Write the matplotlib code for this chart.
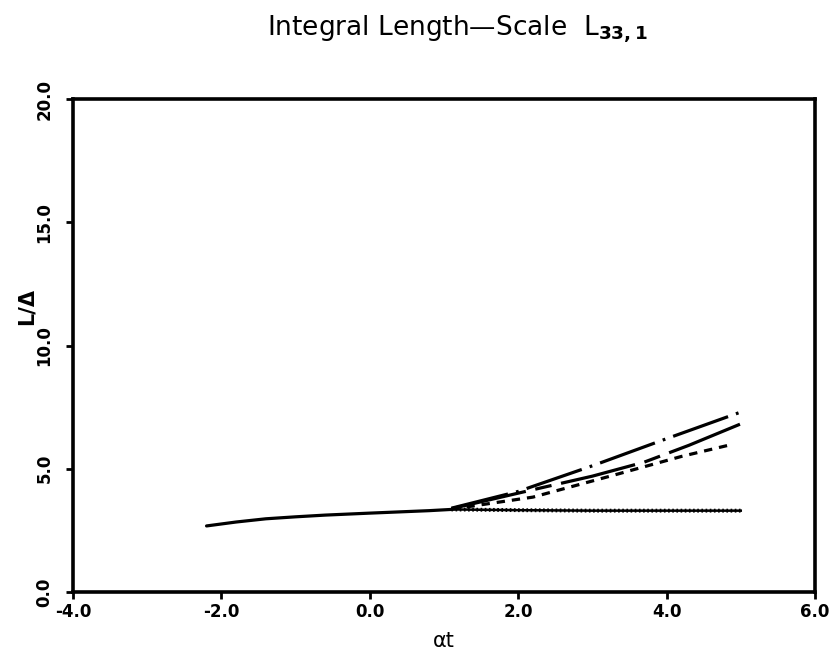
import matplotlib
matplotlib.use("Agg")
import matplotlib.pyplot as plt

# common early-time curve (all cases coincide)
t_common = [-2.2, -1.8, -1.4, -1.0, -0.6, 0.0, 0.4, 0.8, 1.1]
L_common = [2.68, 2.84, 2.97, 3.05, 3.12, 3.20, 3.25, 3.30, 3.35]

# branches after divergence
t_dot = [1.1, 2.0, 3.0, 4.0, 5.0]
L_dot = [3.35, 3.32, 3.30, 3.30, 3.30]

t_short = [1.1, 1.3, 2.2, 3.3, 4.2, 4.9]
L_short = [3.35, 3.45, 3.85, 4.75, 5.50, 6.00]

t_long = [1.1, 2.2, 3.0, 3.7, 4.3, 5.0]
L_long = [3.38, 4.15, 4.70, 5.27, 5.95, 6.82]

t_dd = [1.1, 2.0, 3.0, 4.0, 5.0]
L_dd = [3.40, 4.08, 5.12, 6.22, 7.30]

xticks = [-4.0, -2.0, 0.0, 2.0, 4.0, 6.0]
yticks = [0.0, 5.0, 10.0, 15.0, 20.0]

plt.rcParams['lines.scale_dashes'] = False

fig = plt.figure(figsize=(8.4, 6.54), dpi=100)
ax = fig.add_axes([0.0869, 0.0948, 0.8833, 0.7538])

lw = 2.3
ax.plot(t_common, L_common, color='black', lw=lw, solid_capstyle='round')
ax.plot(t_dot, L_dot, color='black', lw=1.8)
ax.plot(t_dot, L_dot, color='black', lw=2.8, dashes=(1.2, 1.8))
ax.plot(t_short, L_short, color='black', lw=lw, dashes=(6, 5))
ax.plot(t_long, L_long, color='black', lw=lw, dashes=(55, 7, 12, 7))
ax.plot(t_dd, L_dd, color='black', lw=lw, dashes=(42, 6, 2, 6))

ax.set_xlim(-4.0, 6.0)
ax.set_ylim(0.0, 20.0)
ax.set_xticks(xticks)
ax.set_yticks(yticks)
ax.set_xticklabels([f"{v:.1f}" for v in xticks], fontsize=12, fontweight='bold')
ax.set_yticklabels([f"{v:.1f}" for v in yticks], fontsize=12, fontweight='bold',
                   rotation=90, va='center')
ax.tick_params(direction='out', length=5, width=2)
ax.tick_params(axis='x', pad=3)
ax.tick_params(axis='y', pad=9)

for s in ax.spines.values():
    s.set_linewidth(2.6)

ax.set_xlabel("αt", fontsize=15, labelpad=7)
ax.set_ylabel("L/Δ", fontsize=15, fontweight='bold')
ax.yaxis.set_label_coords(-0.049, 0.58)

fig.text(0.545, 0.955, r"Integral Length—Scale  L$_{\mathbf{33,1}}$",
         ha='center', va='center', fontsize=19)

fig.savefig("out.png", dpi=100)
